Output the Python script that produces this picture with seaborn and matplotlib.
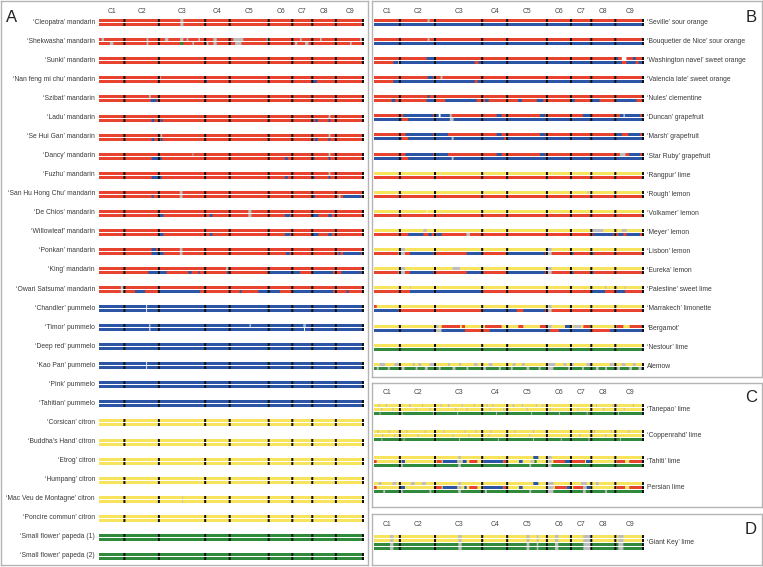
import math
import matplotlib
matplotlib.use("Agg")
import matplotlib.pyplot as plt
import seaborn as sns

# chromosome sizes (Mb), C1..C9
chrom_names = ["C1", "C2", "C3", "C4", "C5", "C6", "C7", "C8", "C9"]
chrom_sizes = [28, 38, 51, 27, 43, 26, 22, 26, 31]

# ancestry codes -> colour
# R mandarin, B pummelo, Y citron, G papeda, g unknown, w break, b pale pummelo
palette = {"R": "#e8432e", "B": "#2c55a5", "Y": "#f7e35c", "G": "#2f8a3c",
           "g": "#bdbdbd", "w": "#ffffff", "b": "#9fb3dd"}

# ---------------- panel A ----------------
a_names = ["\u2018Cleopatra\u2019 mandarin", "\u2018Shekwasha\u2019 mandarin", "\u2018Sunki\u2019 mandarin",
           "\u2018Nan feng mi chu\u2019 mandarin", "\u2018Szibat\u2019 mandarin", "\u2018Ladu\u2019 mandarin",
           "\u2018Se Hui Gan\u2019 mandarin", "\u2018Dancy\u2019 mandarin", "\u2018Fuzhu\u2019 mandarin",
           "\u2018San Hu Hong Chu\u2019 mandarin", "\u2018De Chios\u2019 mandarin", "\u2018Willowleaf\u2019 mandarin",
           "\u2018Ponkan\u2019 mandarin", "\u2018King\u2019 mandarin", "\u2018Owari Satsuma\u2019 mandarin",
           "\u2018Chandler\u2019 pummelo", "\u2018Timor\u2019 pummelo", "\u2018Deep red\u2019 pummelo",
           "\u2018Kao Pan\u2019 pummelo", "\u2018Pink\u2019 pummelo", "\u2018Tahitian\u2019 pummelo",
           "\u2018Corsican\u2019 citron", "\u2018Buddha\u2019s Hand\u2019 citron", "\u2018Etrog\u2019 citron",
           "\u2018Humpang\u2019 citron", "\u2018Mac Veu de Montagne\u2019 citron", "\u2018Poncire commun\u2019 citron",
           "\u2018Small flower\u2019 papeda (1)", "\u2018Small flower\u2019 papeda (2)"]
a_tracks = ["RR"] * 15 + ["BB"] * 6 + ["YY"] * 6 + ["GG"] * 2
# (haplotype, start Mb, end Mb, code)
a_patches = [
    [(0, 89.6, 93, "g"), (1, 89.6, 93, "g")],
    [(0, 2.9, 5.5, "g"), (1, 12, 15.8, "g"), (0, 52.5, 54.4, "g"), (1, 52.5, 54.4, "g"), (0, 72.7, 76.4, "g"),
     (1, 89.3, 92.9, "G"), (0, 89.3, 92.9, "g"), (0, 96.6, 98.4, "g"), (1, 103, 104.7, "g"), (0, 109.5, 111.3, "g"),
     (1, 118.6, 120.5, "g"), (0, 126, 129.7, "g"), (1, 126, 129.7, "g"), (0, 148, 159, "g"), (1, 150, 157, "g"),
     (0, 184.8, 188.4, "g"), (1, 216, 218.5, "g"), (0, 221.5, 223.3, "g"), (1, 227, 230.7, "g"),
     (0, 243.5, 245.4, "g"), (1, 276.6, 278.4, "g"), (0, 287.6, 289.4, "g")],
    [],
    [(1, 115.7, 119, "B"), (1, 236, 240, "B"), (0, 67, 68, "g")],
    [(1, 57, 63.5, "B"), (0, 55, 57, "g"), (1, 116, 118, "B")],
    [(1, 58, 61, "B"), (1, 68, 70, "B"), (1, 238, 241, "B"), (1, 253, 255, "B"), (0, 253, 255, "g")],
    [(1, 58, 61, "B"), (1, 68, 70, "B"), (0, 68, 69.5, "g"), (1, 238, 241, "B"), (1, 253, 255, "B"),
     (0, 253, 255, "g")],
    [(1, 58, 69, "B"), (0, 103, 104, "g"), (1, 205, 208, "B"), (1, 236, 237.5, "B"), (1, 253, 255, "B"),
     (0, 253, 255, "g")],
    [(1, 58, 69, "B"), (1, 205, 208, "B"), (1, 236, 237.5, "B"), (1, 253, 255, "B"), (0, 253, 255, "g")],
    [(1, 58, 60, "B"), (0, 89, 92, "g"), (1, 89, 92, "g"), (1, 236, 238, "B"), (1, 264, 266, "g"),
     (1, 269, 289, "B")],
    [(1, 65.4, 70.9, "B"), (1, 122, 125, "B"), (0, 164.5, 168, "g"), (1, 164.5, 168, "g"), (1, 205, 210.5, "B"),
     (1, 234, 241.7, "B"), (1, 252.7, 256.4, "B")],
    [(1, 65.4, 70.9, "B"), (1, 122, 125, "B"), (1, 205, 210.5, "B"), (1, 234, 241.7, "B"), (1, 252.7, 256.4, "B")],
    [(0, 58, 63, "B"), (1, 58, 71, "B"), (0, 89, 92, "g"), (1, 89, 92, "g"), (1, 206, 210, "B"),
     (1, 264, 266, "B"), (1, 269, 289, "B")],
    [(1, 54.4, 74.6, "B"), (1, 98.4, 102, "B"), (1, 109.5, 111, "B"), (0, 140, 142, "g"), (1, 141, 143, "B"),
     (1, 186.6, 221.5, "B"), (1, 236, 258, "B"), (1, 267, 289.4, "B")],
    [(0, 24, 27, "g"), (1, 24, 27, "g"), (1, 39.7, 50.7, "B"), (1, 65.4, 111.3, "B"), (1, 155, 157, "B"),
     (1, 175.6, 199.4, "B"), (1, 214, 258, "B"), (1, 273, 275, "B")],
    [(0, 52, 53, "w"), (1, 52, 53, "w")],
    [(0, 55.5, 56.5, "w"), (1, 55.5, 56.5, "w"), (0, 166, 167, "w"), (0, 225, 228, "b"), (1, 226, 227, "w")],
    [],
    [(0, 52, 53, "w"), (1, 52, 53, "w")],
    [], [], [], [], [], [],
    [(0, 92, 92.8, "g"), (1, 92, 92.8, "g")],
    [], [], [],
]

# ---------------- panel B ----------------
b_names = ["\u2018Seville\u2019 sour orange", "\u2018Bouquetier de Nice\u2019 sour orange",
           "\u2018Washington navel\u2019 sweet orange", "\u2018Valencia late\u2019 sweet orange",
           "\u2018Nules\u2019 clementine", "\u2018Duncan\u2019 grapefruit", "\u2018Marsh\u2019 grapefruit",
           "\u2018Star Ruby\u2019 grapefruit", "\u2018Rangpur\u2019 lime", "\u2018Rough\u2019 lemon",
           "\u2018Volkamer\u2019 lemon", "\u2018Meyer\u2019 lemon", "\u2018Lisbon\u2019 lemon",
           "\u2018Eureka\u2019 lemon", "\u2018Palestine\u2019 sweet lime", "\u2018Marrakech\u2019 limonette",
           "\u2018Bergamot\u2019", "\u2018Nestour\u2019 lime", "Alemow"]
b_tracks = ["RB", "RB", "RB", "RB", "RR", "RB", "RB", "RB", "YR", "YR", "YR", "YR", "YR", "YR", "YR", "YR",
            "YB", "YG", "YG"]
b_patches = [
    [(0, 58, 60, "g")],
    [(0, 58, 60, "g")],
    [(0, 57, 66, "B"), (1, 0, 21, "R"), (1, 26, 28, "g"), (1, 109, 113, "R"), (0, 262, 264, "B"),
     (0, 268, 273, "w"), (1, 268, 273, "R"), (0, 280, 283, "B"), (1, 283, 286, "R")],
    [(0, 58, 64, "B"), (0, 72, 74, "g"), (1, 0, 21, "R"), (1, 109, 112, "R")],
    [(0, 58, 60, "B"), (1, 19, 23, "B"), (1, 57, 66, "B"), (1, 77, 111, "B"), (1, 120, 124, "B"),
     (1, 156, 160, "B"), (1, 176, 183, "B"), (1, 214, 217, "B"), (1, 235, 244, "B"), (1, 262, 284, "B")],
    [(0, 31.7, 64, "B"), (0, 66, 82, "B"), (0, 70, 72, "w"), (0, 82, 84, "g"), (0, 132.7, 138, "B"),
     (0, 179.5, 185, "B"), (0, 226, 233.6, "B"), (0, 266, 288, "B"), (0, 270, 271, "w"), (1, 30, 37, "R"),
     (1, 82, 86, "g")],
    [(0, 34, 64, "B"), (0, 66, 80, "B"), (0, 132.7, 138, "B"), (0, 141, 143, "R"), (0, 179.5, 185, "B"),
     (0, 262, 268, "B"), (0, 275, 288, "B"), (1, 30, 37, "R"), (1, 84, 86, "g"), (1, 141, 143, "R")],
    [(0, 34, 64, "B"), (0, 66, 80, "B"), (0, 132.7, 138, "B"), (0, 179.5, 185, "B"), (0, 266, 272, "g"),
     (0, 276, 288, "B"), (1, 30, 37, "R"), (1, 84, 86, "g")],
    [],
    [(0, 231, 232, "g")],
    [(0, 57, 58, "w")],
    [(0, 53.4, 57, "g"), (0, 235, 248, "g"), (0, 267.9, 273.3, "g"), (1, 37.1, 53.4, "B"), (1, 58.8, 62.4, "B"),
     (1, 67.8, 73.2, "B"), (1, 100, 103.8, "g"), (1, 237.2, 258.8, "B"), (1, 264, 269.7, "B"),
     (1, 273, 287.7, "B")],
    [(0, 28.1, 33.5, "g"), (0, 186.7, 192, "g"), (1, 26.3, 33.5, "g"), (1, 38.9, 64.2, "B"),
     (1, 100.2, 118.2, "B"), (1, 143.5, 184.9, "B"), (1, 186.7, 192.1, "g"), (1, 212, 215.6, "B"),
     (1, 233.6, 237.2, "B")],
    [(0, 28.1, 33.5, "g"), (0, 85, 93, "g"), (0, 186.7, 192, "g"), (1, 26.3, 33.5, "g"), (1, 38.9, 64.2, "B"),
     (1, 100.2, 118.2, "B"), (1, 143.5, 184.9, "B"), (1, 186.7, 192.1, "g"), (1, 212, 215.6, "B"),
     (1, 233.6, 237.2, "B")],
    [(0, 38.9, 39.7, "g"), (0, 143.5, 145, "g"), (0, 249.8, 251, "g"), (0, 271, 272, "g"), (1, 38.9, 116.4, "B"),
     (1, 235.4, 249.8, "B"), (1, 262.4, 271.5, "B")],
    [(0, 0, 3, "R"), (0, 188.5, 192, "g"), (1, 0, 26.3, "B"), (1, 118.2, 154.3, "B"), (1, 161.5, 184.9, "B"),
     (1, 188.5, 192.1, "g")],
    [(0, 66, 69.6, "g"), (0, 73.2, 93, "R"), (0, 95, 98.4, "R"), (0, 120, 138, "R"), (0, 156.1, 161.5, "R"),
     (0, 179.5, 186.7, "R"), (0, 188.5, 192, "g"), (0, 206.6, 213.8, "B"), (0, 215.6, 224, "g"),
     (0, 226.4, 233.6, "R"), (0, 262.4, 269.7, "R"), (0, 276.5, 291.3, "R"), (1, 66, 73, "g"),
     (1, 98.4, 125, "R"), (1, 190, 200, "R"), (1, 233.6, 255.2, "R")],
    [(1, 28, 29, "w")],
    [(0, 6, 12, "g"), (0, 22, 26, "g"), (0, 42, 44, "g"), (0, 48, 51, "g"), (0, 60, 66, "g"), (0, 80, 82, "g"),
     (0, 92, 94, "g"), (0, 108, 112, "g"), (0, 124, 128, "g"), (0, 150, 153, "g"), (0, 160, 163, "g"),
     (0, 187, 196, "g"), (0, 205, 208, "g"), (0, 214, 216, "g"), (0, 230, 236, "g"), (0, 255, 259, "g"),
     (0, 268, 272, "g"), (0, 280, 283, "g"),
     (1, 3, 5, "g"), (1, 15, 17, "g"), (1, 30, 33, "g"), (1, 45, 47, "g"), (1, 55, 58, "g"), (1, 70, 72, "g"),
     (1, 85, 88, "g"), (1, 100, 102, "g"), (1, 118, 121, "g"), (1, 135, 137, "g"), (1, 148, 150, "g"),
     (1, 165, 168, "g"), (1, 178, 180, "g"), (1, 188, 194, "g"), (1, 210, 213, "g"), (1, 225, 227, "g"),
     (1, 240, 243, "g"), (1, 250, 252, "g"), (1, 263, 266, "g"), (1, 276, 279, "g"), (1, 286, 289, "g")],
]

# ---------------- panel C (triploid limes) ----------------
c_names = ["\u2018Tanepao\u2019 lime", "\u2018Coppenrahd\u2019 lime", "\u2018Tahiti\u2019 lime", "Persian lime"]
c_tracks = ["YYG", "YYG", "YYG", "YYG"]
c_patches = [
    [(0, 5, 6, "g"), (0, 13, 14, "g"), (0, 38, 39.5, "g"), (0, 52, 53, "g"), (0, 72, 73, "g"), (0, 80, 81.5, "g"),
     (0, 95, 96, "g"), (0, 108, 109, "g"), (0, 122, 123, "g"), (0, 128, 129, "g"), (0, 150, 151.5, "g"),
     (0, 160, 161, "g"), (0, 175, 176, "g"), (0, 182, 183, "g"), (0, 240, 241, "g"), (0, 258, 259, "g"),
     (0, 262, 263, "g"), (0, 280, 281, "g"),
     (1, 8, 9, "g"), (1, 20, 21, "g"), (1, 45, 46, "g"), (1, 60, 61, "g"), (1, 88, 89, "g"), (1, 100, 101, "g"),
     (1, 125, 126, "g"), (1, 140, 141, "g"), (1, 165, 166, "g"), (1, 190, 191, "g"), (1, 220, 221, "g"),
     (1, 248, 249, "g"), (1, 270, 271, "g"),
     (2, 6, 7, "g"), (2, 30, 31, "g"), (2, 64, 65, "g"), (2, 90, 91, "g"), (2, 132, 133, "g"), (2, 170, 171, "g"),
     (2, 200, 201, "g"), (2, 230, 231, "g"), (2, 264, 265, "g")],
    [(0, 4, 5, "g"), (0, 16, 17, "g"), (0, 35, 36, "g"), (0, 55, 56, "g"), (0, 75, 76, "g"), (0, 98, 99, "g"),
     (0, 110, 111, "g"), (0, 126, 127, "g"), (0, 152, 153, "g"), (0, 172, 173, "g"), (0, 185, 186, "g"),
     (0, 238, 239, "g"), (0, 256, 257, "g"), (0, 275, 276, "g"),
     (1, 9, 10, "g"), (1, 22, 23, "g"), (1, 47, 48, "g"), (1, 85, 86, "g"), (1, 102, 103, "g"), (1, 124, 125, "g"),
     (1, 142, 143, "g"), (1, 168, 169, "g"), (1, 222, 223, "g"), (1, 250, 251, "g"),
     (2, 8, 9, "g"), (2, 32, 33, "g"), (2, 66, 67, "g"), (2, 92, 93, "g"), (2, 134, 135, "g"), (2, 172, 173, "g"),
     (2, 202, 203, "g"), (2, 232, 233, "g"), (2, 266, 267, "g")],
    [(0, 91.2, 94, "g"), (0, 172.3, 177.7, "B"), (0, 188.5, 192.1, "g"),
     (1, 0, 2.9, "R"), (1, 29.9, 33.5, "B"), (1, 67.8, 73.2, "R"), (1, 74.3, 90.1, "B"), (1, 91.2, 94.8, "g"),
     (1, 95.9, 100.2, "B"), (1, 103.1, 111.8, "R"), (1, 118.2, 139.9, "B"), (1, 139.9, 143.5, "R"),
     (1, 156.8, 160.8, "B"), (1, 169.4, 172.3, "g"), (1, 173.4, 175.9, "G"), (1, 188.5, 192.1, "g"),
     (1, 194, 206.6, "R"), (1, 206.6, 212, "B"), (1, 213.8, 228.2, "R"), (1, 229.3, 233.6, "B"),
     (1, 262.4, 271.5, "R"), (1, 276.1, 291.3, "R"),
     (2, 28, 31, "g"), (2, 91, 94, "g"), (2, 168, 170, "g"), (2, 188, 192, "g")],
    [(0, 5, 8, "g"), (0, 20, 24, "g"), (0, 40, 44, "g"), (0, 52, 56, "g"), (0, 91.2, 94, "g"),
     (0, 172.3, 177.7, "B"), (0, 186, 194, "g"), (0, 224, 230, "g"), (0, 240, 243, "g"),
     (1, 0, 2.9, "R"), (1, 28.1, 33.5, "B"), (1, 66, 73.2, "R"), (1, 74.3, 90.1, "B"), (1, 91.2, 94.8, "g"),
     (1, 97.7, 100.2, "B"), (1, 103.1, 111.8, "R"), (1, 118.2, 139.9, "B"), (1, 139.9, 143.5, "R"),
     (1, 156.8, 160.8, "B"), (1, 186.7, 194, "g"), (1, 195.7, 208.4, "R"), (1, 208.4, 213.8, "B"),
     (1, 215.6, 226.4, "R"), (1, 226.4, 230, "g"), (1, 230, 233.6, "B"), (1, 262.4, 271.5, "R"),
     (1, 276.1, 291.3, "R"),
     (2, 10, 12, "g"), (2, 28, 31, "g"), (2, 60, 62, "g"), (2, 91, 94, "g"), (2, 120, 122, "g"),
     (2, 168, 170, "g"), (2, 186, 194, "g"), (2, 226, 229, "g"), (2, 250, 252, "g")],
]

# ---------------- panel D (tetraploid) ----------------
d_names = ["\u2018Giant Key\u2019 lime"]
d_tracks = ["YYGG"]
d_gray = [(17.3, 21), (91.2, 94.8), (165, 168), (176, 177.7), (195.7, 199.4), (226.4, 235.4), (264.2, 269.7)]
d_patches = [[(t, s, e, "g") for t in range(4) for s, e in d_gray]]

# ---------------- drawing ----------------
sns.set_theme(style="white")
plt.rcParams["font.family"] = ["Liberation Sans", "DejaVu Sans"]

W, H = 763, 567
genome = sum(chrom_sizes)
ends = [sum(chrom_sizes[:i + 1]) for i in range(len(chrom_sizes))]
mids = [e - s / 2 for e, s in zip(ends, chrom_sizes)]

fig = plt.figure(figsize=(W / 100, H / 100), dpi=100)
fig.patch.set_facecolor("white")


def make_panel(box, bar_x, row0, step):
    left, top, right, bottom = box
    ax = fig.add_axes([left / W, 1 - bottom / H, (right - left) / W, (bottom - top) / H])
    scale = (bar_x[1] - bar_x[0]) / genome
    ax.set_xlim((left - bar_x[0]) / scale, (right - bar_x[0]) / scale)
    ax.set_ylim(bottom - row0, top - row0)   # y in pixels relative to first row
    ax.set_xticks([])
    ax.set_yticks([])
    for sp in ax.spines.values():
        sp.set_visible(True)
        sp.set_color("#b4b4b4")
        sp.set_linewidth(1.0)
    return ax, scale


def draw_rows(ax, scale, row0, step, names, tracks, patches, label_side):
    h, gap = 3.0, 1.0
    sep = 2.0 / scale
    for i, (name, trk, pats) in enumerate(zip(names, tracks, patches)):
        n = len(trk)
        total = n * h + (n - 1) * gap
        # align track edges to whole pixels
        top_px = math.floor(row0 + i * step - total / 2 + 0.5)
        ys = [top_px + k * (h + gap) + h / 2 - row0 for k in range(n)]
        yc = row0 + i * step - row0
        for k, code in enumerate(trk):
            ax.barh(ys[k], genome, left=0, height=h, color=palette[code], linewidth=0, snap=False)
        for k, s, e, code in pats:
            ax.barh(ys[k], e - s, left=s, height=h, color=palette[code], linewidth=0, snap=False)
        for k in range(n):
            for j, b in enumerate(ends):
                x0 = b - sep if j == len(ends) - 1 else b - sep / 2
                ax.barh(ys[k], sep, left=x0, height=h, color="#111111", linewidth=0, snap=False)
        if label_side == "left":
            ax.text(-4.5, yc - 0.5, name, ha="right", va="center", fontsize=4.9, color="#3a3a3a")
        else:
            ax.text(genome + 3.5, yc, name, ha="left", va="center", fontsize=4.9, color="#3a3a3a")


def chrom_labels(ax, y):
    for name, m in zip(chrom_names, mids):
        ax.text(m, y, name, ha="center", va="center", fontsize=4.9, color="#444444")


# panel A
ax_a, sc_a = make_panel((1, 1, 368, 565), (99, 364), 22.7, 19.06)
draw_rows(ax_a, sc_a, 22.7, 19.06, a_names, a_tracks, a_patches, "left")
chrom_labels(ax_a, 11.5 - 22.7)

# panel B
ax_b, sc_b = make_panel((372, 1, 762, 377), (374, 644), 22.3, 19.11)
draw_rows(ax_b, sc_b, 22.3, 19.11, b_names, b_tracks, b_patches, "right")
chrom_labels(ax_b, 11.5 - 22.3)

# panel C
ax_c, sc_c = make_panel((372, 383, 762, 507), (374, 644), 409.7, 26.0)
draw_rows(ax_c, sc_c, 409.7, 26.0, c_names, c_tracks, c_patches, "right")
chrom_labels(ax_c, 393 - 409.7)

# panel D
ax_d, sc_d = make_panel((372, 514, 762, 565), (374, 644), 542.0, 26.0)
draw_rows(ax_d, sc_d, 542.0, 26.0, d_names, d_tracks, d_patches, "right")
chrom_labels(ax_d, 525 - 542.0)

# panel letters
for letter, x, y in [("A", 12, 17), ("B", 751, 17), ("C", 751, 398), ("D", 751, 530)]:
    fig.text(x / W, 1 - y / H, letter, ha="center", va="center", fontsize=12, color="#222222")

fig.savefig("out.png", dpi=100, facecolor="white")
